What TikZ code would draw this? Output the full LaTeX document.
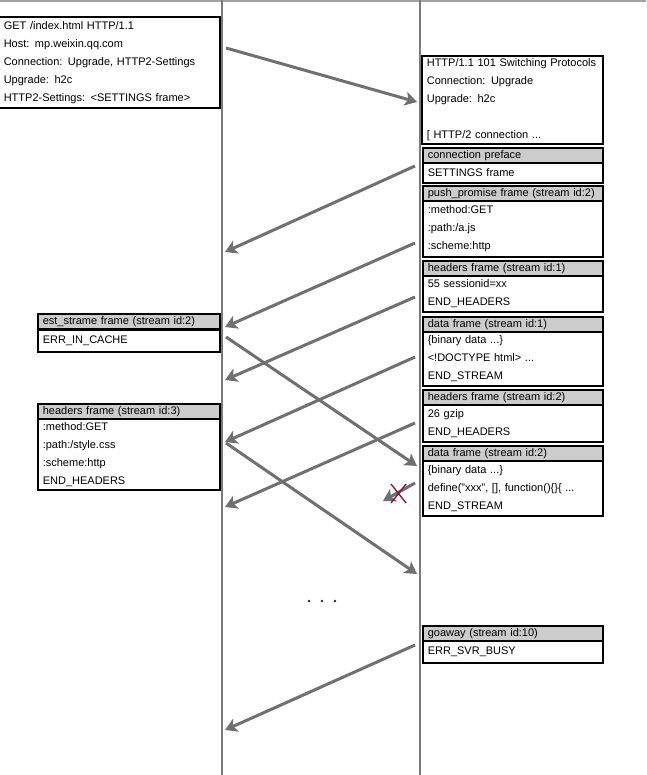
\documentclass[tikz,border=0pt]{standalone}
\usepackage{fontspec}
\setmainfont{Liberation Sans}
\usetikzlibrary{arrows.meta}
\definecolor{lifegray}{HTML}{7A7A7A}
\definecolor{arrowgray}{HTML}{707070}
\definecolor{hdrgray}{HTML}{CCCCCC}
\definecolor{xred}{HTML}{8B1A3A}
\tikzset{
  txt/.style={font=\fontsize{11}{18}\selectfont},
  framebox/.style={draw=black, line width=1.6pt, anchor=north west, inner xsep=5pt, inner ysep=0pt, align=left, txt},
  hdr/.style={framebox, fill=hdrgray, minimum height=15pt},
  bodybox/.style={framebox, fill=white},
  lifeline/.style={draw=lifegray, line width=2.6pt},
  msg/.style={draw=arrowgray, line width=3pt, -{Stealth[length=12pt,width=14pt,inset=3pt]}},
  dotmark/.style={fill=black!85},
}
\begin{document}
\begin{tikzpicture}[x=1pt,y=-1pt]
\useasboundingbox (0,0) rectangle (646,775);
% top border
\draw[draw=lifegray!70, line width=2pt] (0,1) -- (646,1);
% lifelines
\coordinate (cTop) at (222,0);
\coordinate (cBot) at (222,775);
\coordinate (sTop) at (420,0);
\coordinate (sBot) at (420,775);
\draw[lifeline] (cTop) -- (cBot);
\draw[lifeline] (sTop) -- (sBot);

% request
\node[bodybox, text width=211pt, minimum height=91pt] (req) at (-2,16)
 {GET /index.html HTTP/1.1\\Host: mp.weixin.qq.com\\Connection: Upgrade, HTTP2-Settings\\Upgrade: h2c\\HTTP2-Settings: <SETTINGS frame>};

% response
\node[bodybox, text width=171pt, minimum height=88pt] (resp) at (421,55)
 {HTTP/1.1 101 Switching Protocols\\Connection: Upgrade\\Upgrade: h2c\\[18pt][ HTTP/2 connection ...};

% connection preface
\node[hdr, text width=170pt] (cph) at (422,147) {connection preface};
\node[bodybox, text width=170pt, minimum height=20pt] (cpb) at (422,162) {SETTINGS frame};

% push promise
\node[hdr, text width=170pt] (pph) at (422,185) {push\_promise frame (stream id:2)};
\node[bodybox, text width=170pt, minimum height=56pt] (ppb) at (422,200) {:method:GET\\:path:/a.js\\:scheme:http};

% headers 1
\node[hdr, text width=170pt] (h1h) at (422,260) {headers frame (stream id:1)};
\node[bodybox, text width=170pt, minimum height=36pt] (h1b) at (422,275) {55 sessionid=xx\\END\_HEADERS};

% data 1
\node[hdr, text width=170pt] (d1h) at (422,316) {data frame (stream id:1)};
\node[bodybox, text width=170pt, minimum height=54pt] (d1b) at (422,331) {\{binary data ...\}\\<!DOCTYPE html> ...\\END\_STREAM};

% headers 2
\node[hdr, text width=170pt] (h2h) at (422,389) {headers frame (stream id:2)};
\node[bodybox, text width=170pt, minimum height=37pt] (h2b) at (422,404) {26 gzip\\END\_HEADERS};

% data 2
\node[hdr, text width=170pt] (d2h) at (422,445) {data frame (stream id:2)};
\node[bodybox, text width=170pt, minimum height=55pt] (d2b) at (422,460) {\{binary data ...\}\\define("xxx", [], function()\{\}\{ ...\\END\_STREAM};

% goaway
\node[hdr, text width=170pt] (gah) at (422,625) {goaway (stream id:10)};
\node[bodybox, text width=170pt, minimum height=22pt] (gab) at (422,640) {ERR\_SVR\_BUSY};

% rst stream
\node[hdr, text width=172pt] (rsh) at (37,313) {est\_strame frame (stream id:2)};
\node[bodybox, text width=172pt, minimum height=22pt] (rsb) at (37,329) {ERR\_IN\_CACHE};

% headers 3
\node[hdr, text width=172pt] (h3h) at (37,403) {headers frame (stream id:3)};
\node[bodybox, text width=172pt, minimum height=71pt] (h3b) at (37,418) {:method:GET\\:path:/style.css\\:scheme:http\\END\_HEADERS};

% arrow end points
\coordinate (a1s) at (226,48);  \coordinate (a1e) at (417,102);
\coordinate (a2s) at (415,166); \coordinate (a2e) at (225,252);
\coordinate (a3s) at (415,243); \coordinate (a3e) at (225,327);
\coordinate (a4s) at (415,297); \coordinate (a4e) at (225,380);
\coordinate (a5s) at (415,357); \coordinate (a5e) at (225,442);
\coordinate (a6s) at (415,423); \coordinate (a6e) at (225,507);
\coordinate (a7s) at (226,337); \coordinate (a7e) at (417,466);
\coordinate (a8s) at (226,443); \coordinate (a8e) at (417,574);
\coordinate (a9s) at (415,483); \coordinate (a9e) at (383,501);
\coordinate (a10s) at (415,645); \coordinate (a10e) at (225,730);

\draw[msg] (a1s) -- (a1e);
\draw[msg] (a2s) -- (a2e);
\draw[msg] (a3s) -- (a3e);
\draw[msg] (a4s) -- (a4e);
\draw[msg] (a5s) -- (a5e);
\draw[msg] (a6s) -- (a6e);
\draw[msg] (a7s) -- (a7e);
\draw[msg] (a8s) -- (a8e);
\draw[msg] (a9s) -- (a9e);
\draw[msg] (a10s) -- (a10e);

% red cross
\coordinate (x1) at (391,484); \coordinate (x2) at (406,503);
\coordinate (x3) at (406,484); \coordinate (x4) at (391,503);
\draw[xred, line width=1.4pt] (x1) -- (x2) (x3) -- (x4);

% dots
\coordinate (dt1) at (309,601);
\coordinate (dt2) at (322,601);
\coordinate (dt3) at (335,601);
\fill[dotmark] (dt1) circle (1.4pt) (dt2) circle (1.4pt) (dt3) circle (1.4pt);
\end{tikzpicture}
\end{document}
